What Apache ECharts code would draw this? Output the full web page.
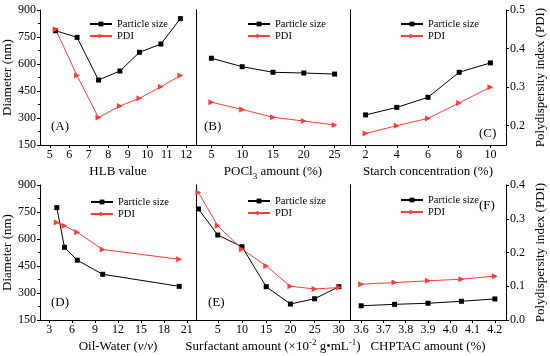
<!DOCTYPE html>
<html>
<head>
<meta charset="utf-8">
<script src="https://cdn.jsdelivr.net/npm/echarts@6/dist/echarts.min.js"></script>
<style>html,body{margin:0;padding:0;background:#fff}#c{width:550px;height:356px}</style>
</head>
<body>
<div id="c"></div>
<script>
// ---- data ----
const hlb = [5.3, 6.4, 7.5, 8.6, 9.6, 10.7, 11.7];
const hlbSize = [785, 748, 511, 561, 665, 711, 852];
const hlbPdi = [0.45, 0.33, 0.221, 0.251, 0.271, 0.301, 0.33];

const pocl3 = [5, 10, 15, 20, 25];
const pocl3Size = [632, 585, 554, 550, 544];
const pocl3Pdi = [0.261, 0.242, 0.222, 0.212, 0.202];

const starch = [2, 4, 6, 8, 10];
const starchSize = [317, 359, 415, 554, 606];
const starchPdi = [0.18, 0.2, 0.219, 0.259, 0.30];

const oilWater = [4, 5, 6.67, 10, 20];
const oilSize = [774, 554, 482, 404, 337];
const oilPdi = [0.289, 0.279, 0.26, 0.209, 0.18];

const surf = [1, 5, 10, 15, 20, 25, 30];
const surfSize = [767, 622, 557, 335, 239, 268, 335];
const surfPdi = [0.378, 0.279, 0.21, 0.16, 0.10, 0.092, 0.096];

const chptac = [3.6, 3.75, 3.9, 4.05, 4.2];
const chptacSize = [229, 237, 243, 254, 267];
const chptacPdi = [0.106, 0.111, 0.116, 0.121, 0.13];

// ---- tick labels ----
const hlbTicks = [5, 6, 7, 8, 9, 10, 11, 12];
const pocl3Ticks = [5, 10, 15, 20, 25];
const starchTicks = [2, 4, 6, 8, 10];
const oilTicks = [3, 6, 9, 12, 15, 18, 21];
const surfTicks = [5, 10, 15, 20, 25, 30];
const chptacTicks = [3.6, 3.7, 3.8, 3.9, 4.0, 4.1, 4.2];
const pdiTopTicks = [0.2, 0.3, 0.4, 0.5];
const pdiBottomTicks = [0.0, 0.1, 0.2, 0.3, 0.4];

const FONT = 'Liberation Serif';
const RED = '#ff3b3b';

const rich = {
  n: {fontSize: 13, fontFamily: FONT, color: '#000', lineHeight: 18, verticalAlign: 'middle'},
  i: {fontSize: 13, fontFamily: FONT, color: '#000', lineHeight: 18, verticalAlign: 'middle', fontStyle: 'italic'},
  sub: {fontSize: 9, fontFamily: FONT, color: '#000', lineHeight: 9, verticalAlign: 'bottom'},
  sup: {fontSize: 9, fontFamily: FONT, color: '#000', lineHeight: 9, verticalAlign: 'top'}
};

const panels = [
  {x: hlb, s: hlbSize, p: hlbPdi, ticks: hlbTicks, min: 4.5, max: 12.5, row: 0, col: 0,
   name: '{n|HLB value}', label: '(A)', lx: 60, ly: 128, leg: [89, 18]},
  {x: pocl3, s: pocl3Size, p: pocl3Pdi, ticks: pocl3Ticks, min: 2.5, max: 27.5, row: 0, col: 1,
   name: '{n|POCl}{sub|3}{n| amount (%)}', label: '(B)', lx: 213, ly: 128, leg: [247, 18]},
  {x: starch, s: starchSize, p: starchPdi, ticks: starchTicks, min: 1, max: 11, row: 0, col: 2,
   name: '{n|Starch concentration (%)}', label: '(C)', lx: 488, ly: 135, leg: [400, 18]},
  {x: oilWater, s: oilSize, p: oilPdi, ticks: oilTicks, min: 1.8, max: 22.2, row: 1, col: 0,
   name: '{n|Oil-Water (}{i|v}{n|/}{i|v}{n|)}', label: '(D)', lx: 60, ly: 304, leg: [90, 196]},
  {x: surf, s: surfSize, p: surfPdi, ticks: surfTicks, min: 0.5, max: 32.3, row: 1, col: 1,
   name: '{n|Surfactant amount (×10}{sup|-2}{n| g•mL}{sup|-1}{n|)}', label: '(E)', lx: 217, ly: 304, leg: [247, 195]},
  {x: chptac, s: chptacSize, p: chptacPdi, ticks: chptacTicks, min: 3.55, max: 4.25, row: 1, col: 2,
   name: '{n|CHPTAC amount (%)}', label: '(F)', lx: 488, ly: 207, leg: [400, 194]}
];

const cols = [{left: 40, width: 156}, {left: 196, width: 154}, {left: 350, width: 156}];
const rows = [{top: 10, height: 135}, {top: 185, height: 135}];

const grid = [], xAxis = [], yAxis = [], series = [], legend = [], graphic = [];
const axLine = {show: true, lineStyle: {color: '#000', width: 1}};
const tickStyle = {color: '#000', width: 1};
const labelStyle = {fontFamily: FONT, fontSize: 12, color: '#000'};

panels.forEach((pn, i) => {
  grid.push({left: cols[pn.col].left, width: cols[pn.col].width, top: rows[pn.row].top,
             height: rows[pn.row].height, outerBoundsMode: 'none', containLabel: false});
  xAxis.push({
    type: 'value', gridIndex: i, min: pn.min, max: pn.max,
    axisLine: {show: true, onZero: false, lineStyle: {color: '#000', width: 1}},
    axisTick: {show: true, length: 3, lineStyle: tickStyle, customValues: pn.ticks},
    axisLabel: Object.assign({margin: 4, customValues: pn.ticks, formatter: v => (pn.col === 2 && pn.row === 1) ? v.toFixed(1) : String(v)}, labelStyle),
    splitLine: {show: false},
    name: pn.name, nameLocation: 'middle', nameGap: 18,
    nameTextStyle: {rich: rich}
  });
  const showLeft = pn.col === 0;
  const showRight = pn.col === 2;
  yAxis.push({
    type: 'value', gridIndex: i, position: 'left', min: 150, max: 900, interval: 150,
    axisLine: axLine,
    axisTick: {show: showLeft, length: 3, lineStyle: tickStyle},
    minorTick: {show: showLeft, splitNumber: 2, length: 2, lineStyle: tickStyle},
    axisLabel: Object.assign({show: showLeft, margin: 4}, labelStyle),
    splitLine: {show: false},
    name: showLeft ? 'Diameter (nm)' : '', nameLocation: 'middle', nameGap: 20,
    nameTextStyle: {fontFamily: FONT, fontSize: 13, color: '#000'}
  });
  const pt = pn.row === 0 ? pdiTopTicks : pdiBottomTicks;
  yAxis.push({
    type: 'value', gridIndex: i, position: 'right',
    min: pn.row === 0 ? 0.15 : 0, max: pn.row === 0 ? 0.5 : 0.4,
    axisLine: axLine,
    axisTick: {show: showRight, length: 3, lineStyle: tickStyle, customValues: pt},
    axisLabel: Object.assign({show: showRight, margin: 4, customValues: pt, formatter: v => v.toFixed(1)}, labelStyle),
    splitLine: {show: false},
    name: showRight ? 'Polydispersity index (PDI)' : '', nameLocation: 'middle', nameGap: 28,
    nameTextStyle: {fontFamily: FONT, fontSize: 13, color: '#000'}
  });
  series.push({
    name: 'Particle size', type: 'line', xAxisIndex: i, yAxisIndex: 2 * i,
    data: pn.x.map((v, k) => [v, pn.s[k]]),
    symbol: 'rect', symbolSize: 5, showAllSymbol: true,
    lineStyle: {color: '#000', width: 1}, itemStyle: {color: '#000'},
    emphasis: {disabled: true}, animation: false
  });
  series.push({
    name: 'PDI', type: 'line', xAxisIndex: i, yAxisIndex: 2 * i + 1,
    data: pn.x.map((v, k) => [v, pn.p[k]]),
    symbol: 'triangle', symbolSize: 6, symbolRotate: -90, showAllSymbol: true,
    lineStyle: {color: RED, width: 1}, itemStyle: {color: RED},
    emphasis: {disabled: true}, animation: false
  });
  legend.push({
    data: ['Particle size', 'PDI'], orient: 'vertical', left: pn.leg[0], top: pn.leg[1],
    itemWidth: 22, itemHeight: 6, itemGap: 0, selectedMode: false, padding: 0,
    formatter: '{t|{name}}',
    textStyle: {fontFamily: FONT, fontSize: 10, color: '#000', lineHeight: 12,
      rich: {t: {fontFamily: FONT, fontSize: 10.5, color: '#000', lineHeight: 12}}}
  });
  graphic.push({
    type: 'text', left: pn.lx - 9, top: pn.ly - 8,
    style: {text: pn.label, font: '13px "Liberation Serif"', fill: '#000'}
  });
});

const chart = echarts.init(document.getElementById('c'), null, {renderer: 'canvas'});
chart.setOption({
  animation: false,
  backgroundColor: '#fff',
  textStyle: {fontFamily: FONT},
  grid, xAxis, yAxis, series, legend, graphic
});
</script>
</body>
</html>
